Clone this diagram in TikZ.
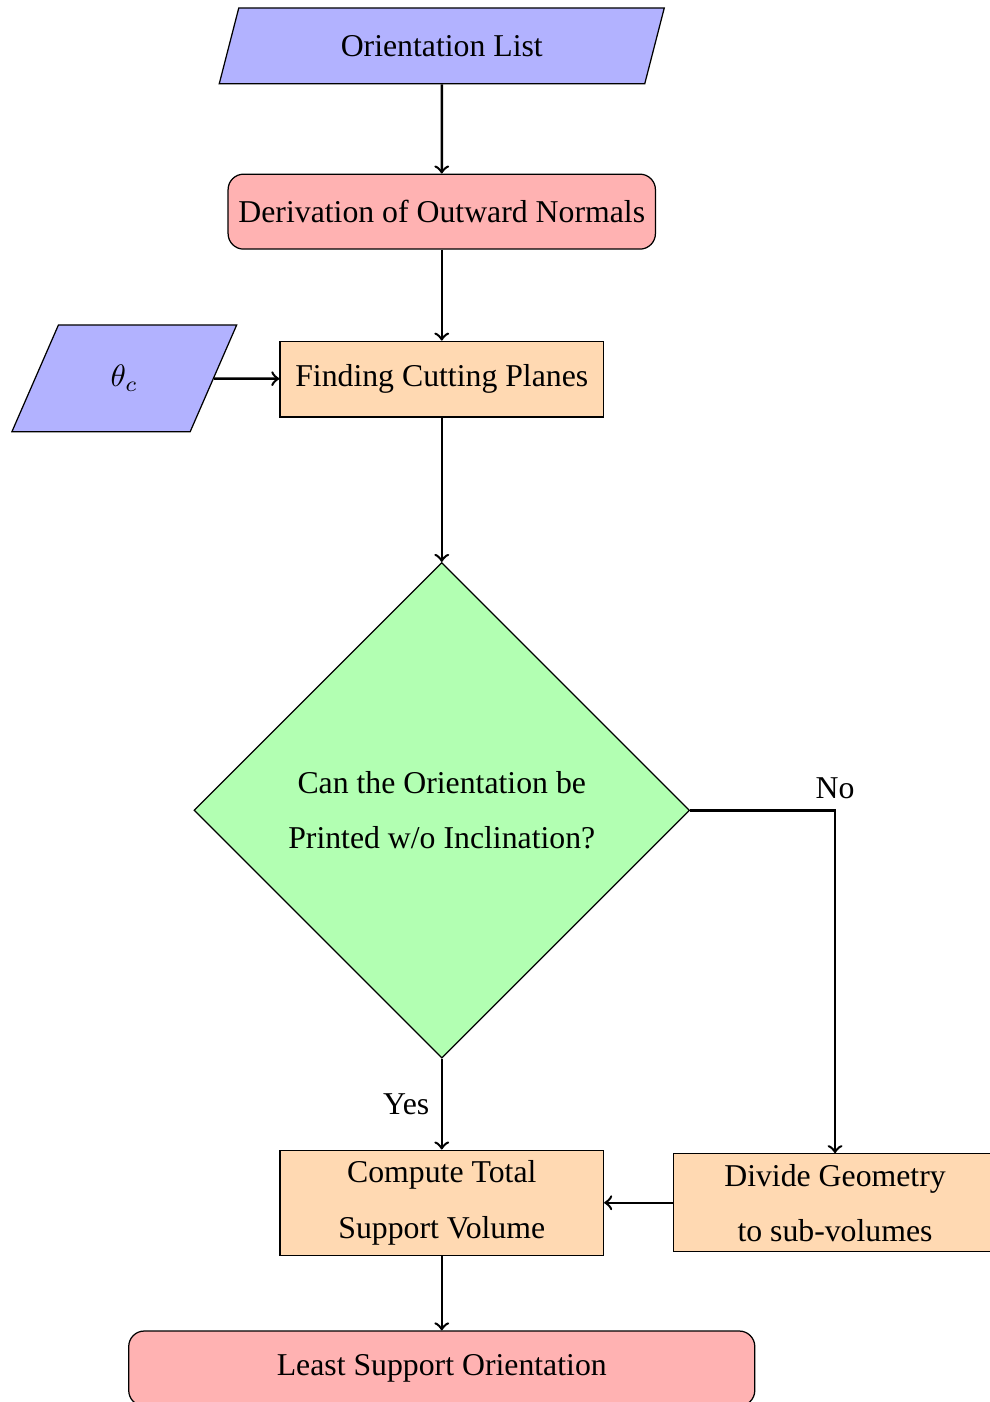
\documentclass[tikz,border=0pt]{standalone}
\usepackage{fontspec}
\setmainfont{Liberation Serif}
\usepackage{tikz}
\usetikzlibrary{shapes.geometric,positioning}

\begin{document}
\begin{tikzpicture}[
    x=1mm, y=1mm,
    font=\fontsize{10.25}{12.3}\selectfont,
    io/.style={trapezium,trapezium left angle=70,trapezium right angle=110,
               trapezium stretches=true,draw,fill=blue!30,inner sep=1pt},
    terminal/.style={draw,rounded corners=5pt,fill=red!30,minimum height=8.5mm},
    process/.style={draw,fill=orange!30,minimum width=36.7mm,minimum height=8.6mm,
                    align=center},
    decision/.style={diamond,draw,fill=green!30,minimum width=56.2mm,
                     minimum height=56.2mm,inner sep=0pt,align=center},
    arrow/.style={->,thick},
  ]
  \useasboundingbox (0,0) rectangle (112.2,-159.0);

  % main column
  \node[io,minimum width=50.8mm,minimum height=8.6mm] (olist) at (50.1,-5.2) {Orientation List};
  \node[terminal,minimum width=48.4mm] (normals) at (50.1,-24.0) {Derivation of Outward Normals};
  \node[process] (planes) at (50.1,-43.0) {Finding Cutting Planes};
  \node[io,minimum width=25.5mm,minimum height=12.1mm] (theta) at (14.1,-42.9) {$\theta_c$};
  \node[decision] (check) at (50.1,-91.9)
    {Can the Orientation be\\[1.9mm] Printed w/o Inclination?};
  \node[process,minimum height=11.8mm] (volume) at (50.1,-136.4)
    {Compute Total\\[2.0mm] Support Volume};
  \node[process,minimum height=10.9mm] (divide) at (94.7,-136.4)
    {Divide Geometry\\[1.9mm] to sub-volumes};
  \node[terminal,minimum width=71mm] (least) at (50.1,-155.2) {Least Support Orientation};

  % connectors
  \draw[arrow] (olist) -- (normals);
  \draw[arrow] (normals) -- (planes);
  \draw[arrow] (theta) -- (planes);
  \draw[arrow] (planes) -- (check);
  \draw[arrow] (check) -- node[left=0.1mm,pos=0.5] {Yes} (volume);
  \draw[arrow] (check.east) -| node[above,pos=0.5] {No} (divide.north);
  \draw[arrow] (divide) -- (volume);
  \draw[arrow] (volume) -- (least);

\end{tikzpicture}
\end{document}
